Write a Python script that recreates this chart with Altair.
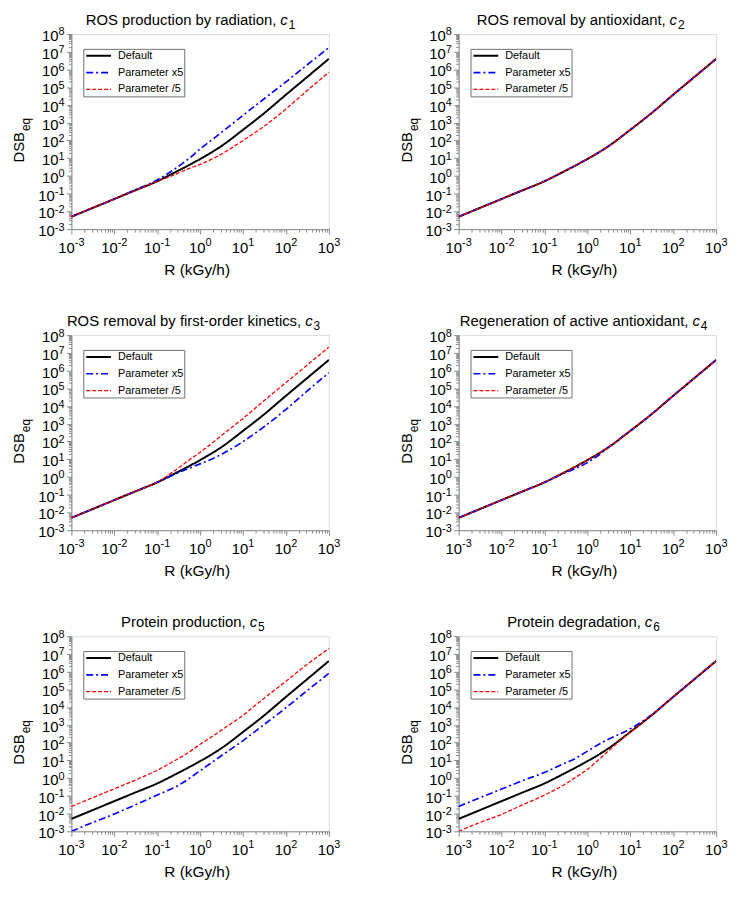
import altair as alt
import pandas as pd

# ---------------- data ----------------
R = [0.001, 0.003, 0.01, 0.03, 0.1, 0.3, 0.5, 1, 2, 3, 10, 30, 100, 300, 1000]
DEFAULT = [0.005, 0.015, 0.05, 0.15, 0.5, 1.9, 3.6, 9, 24, 45, 400, 3200, 3.8e4, 3.5e5, 4e6]

C1_X5 = [0.005, 0.015, 0.05, 0.16, 0.6, 3.2, 8, 33, 120, 260, 2600, 2.1e4, 2.0e5, 1.7e6, 1.7e7]
C1_D5 = [0.005, 0.015, 0.05, 0.15, 0.48, 1.4, 2.4, 4.5, 9.5, 16, 100, 600, 6000, 6e4, 7e5]
C2_X5 = [0.005, 0.015, 0.05, 0.15, 0.5, 1.9, 3.6, 9, 24, 45, 400, 3200, 3.8e4, 3.5e5, 4e6]
C2_D5 = [0.005, 0.015, 0.05, 0.15, 0.5, 1.9, 3.6, 9, 24, 45, 400, 3200, 3.8e4, 3.5e5, 4e6]
C3_X5 = [0.005, 0.015, 0.05, 0.15, 0.5, 1.7, 2.8, 5.5, 11, 18, 100, 650, 6500, 6.5e4, 7.5e5]
C3_D5 = [0.005, 0.015, 0.05, 0.15, 0.52, 3.0, 7.5, 25, 90, 200, 2000, 1.9e4, 2.1e5, 1.9e6, 2.1e7]
C4_X5 = [0.005, 0.015, 0.05, 0.15, 0.5, 1.7, 2.8, 6.5, 20, 45, 400, 3200, 3.8e4, 3.5e5, 4e6]
C4_D5 = [0.005, 0.015, 0.05, 0.15, 0.5, 1.9, 3.6, 9, 24, 45, 400, 3200, 3.8e4, 3.5e5, 4e6]
C5_X5 = [0.001, 0.003, 0.0095, 0.03, 0.11, 0.37, 0.8, 2.6, 8.5, 17, 130, 1000, 9300, 8e4, 8e5]
C5_D5 = [0.025, 0.075, 0.25, 0.75, 2.8, 12, 25, 80, 240, 470, 3500, 3e4, 2.9e5, 2.4e6, 2e7]
C6_X5 = [0.025, 0.075, 0.24, 0.7, 2.1, 7, 12, 33, 90, 150, 600, 3400, 3.8e4, 3.5e5, 4e6]
C6_D5 = [0.001, 0.003, 0.009, 0.03, 0.11, 0.45, 1.0, 3.1, 13, 32, 390, 3200, 3.8e4, 3.5e5, 4e6]

X5 = [C1_X5, C2_X5, C3_X5, C4_X5, C5_X5, C6_X5]
D5 = [C1_D5, C2_D5, C3_D5, C4_D5, C5_D5, C6_D5]

TITLES = [
    "ROS production by radiation,",
    "ROS removal by antioxidant,",
    "ROS removal by first-order kinetics,",
    "Regeneration of active antioxidant,",
    "Protein production,",
    "Protein degradation,",
]
PARAM_INDEX = ["1", "2", "3", "4", "5", "6"]
TITLE_ANCHOR = [211, 213, 236, 236, 180, 188]  # x of the italic "c" inside each panel

SERIES = ["Default", "Parameter x5", "Parameter /5"]
COLORS = ["#000000", "#0000ff", "#ff0000"]
DASHES = [[1, 0], [7, 3, 2, 3], [4, 2]]
WIDTHS = [2.0, 1.3, 1.3]

X_TITLE = "R (kGy/h)"
Y_TITLE = "DSB"
Y_TITLE_SUB = "eq"
X_EXP = list(range(-3, 4))
Y_EXP = list(range(-3, 9))
X_DOMAIN = [1e-3, 1e3]
Y_DOMAIN = [1e-3, 1e8]
X_TICKS = [m * 10.0 ** e for e in range(-3, 3) for m in range(1, 10)] + [1e3]
Y_TICKS = [m * 10.0 ** e for e in range(-3, 8) for m in range(1, 10)] + [1e8]

# ---------------- style ----------------
FONT = "Liberation Sans"
GRAY = "#8a8a8a"
W, H = 260, 197
BASE_FS, EXP_FS = 15, 11
TITLE_FS = 15

MAJOR = "abs(log(datum.value)/LN10 - round(log(datum.value)/LN10)) < 0.001"
TICK_SIZE = {"condition": {"test": MAJOR, "value": 5}, "value": 3}


def make_axis(values):
    return alt.Axis(
        values=values,
        labels=False,
        tickSize=TICK_SIZE,
        tickColor=GRAY,
        domainColor=GRAY,
        grid=False,
        title=None,
    )


X_AXIS = make_axis(X_TICKS)
Y_AXIS = make_axis(Y_TICKS)
X_SCALE = alt.Scale(type="log", domain=X_DOMAIN, nice=False)
Y_SCALE = alt.Scale(type="log", domain=Y_DOMAIN, nice=False)


def xenc():
    return alt.X("R:Q", scale=X_SCALE, axis=X_AXIS)


def yenc():
    return alt.Y("DSB:Q", scale=Y_SCALE, axis=Y_AXIS)


def text(df, **kw):
    base = dict(font=FONT, color="black", baseline="alphabetic")
    base.update(kw)
    return alt.Chart(df).mark_text(**base)


def tick_label_layers():
    layers = []
    # x axis labels: "10" + superscript exponent, centred under the tick
    for neg, dx in [(True, 3.4), (False, 5.3)]:
        exps = [e for e in X_EXP if (e < 0) == neg]
        df = pd.DataFrame({"R": [10.0 ** e for e in exps], "base": ["10"] * len(exps),
                           "exp": [str(e) for e in exps]})
        layers.append(text(df, fontSize=BASE_FS, align="right", dx=dx).encode(
            x=xenc(), y=alt.value(H + 24), text="base:N"))
        layers.append(text(df, fontSize=EXP_FS, align="left", dx=dx).encode(
            x=xenc(), y=alt.value(H + 17), text="exp:N"))
    # y axis labels: right aligned as a whole
    for neg, w in [(True, 9.8), (False, 6.1)]:
        exps = [e for e in Y_EXP if (e < 0) == neg]
        df = pd.DataFrame({"DSB": [10.0 ** e for e in exps], "base": ["10"] * len(exps),
                           "exp": [str(e) for e in exps]})
        layers.append(text(df, fontSize=BASE_FS, align="right", dy=7).encode(
            y=yenc(), x=alt.value(-7 - w), text="base:N"))
        layers.append(text(df, fontSize=EXP_FS, align="right", dy=1.5).encode(
            y=yenc(), x=alt.value(-7), text="exp:N"))
    return layers


def panel(i):
    rows = []
    for name, vals in zip(SERIES, [DEFAULT, X5[i], D5[i]]):
        for r, v in zip(R, vals):
            rows.append({"R": r, "DSB": v, "series": name})
    df = pd.DataFrame(rows)

    leg = alt.Legend(
        orient="none",
        legendX=12,
        legendY=15,
        title=None,
        labelFont=FONT,
        labelFontSize=11,
        labelColor="black",
        labelOffset=6,
        labelExpr="datum.label + '\u00a0\u00a0\u00a0'",
        symbolType="stroke",
        symbolSize=625,
        symbolOffset=2,
        clipHeight=14,
        rowPadding=3,
        strokeColor="#707070",
        fillColor="white",
        padding=0,
        cornerRadius=0,
    )

    lines = alt.Chart(df).mark_line(interpolate="monotone", clip=True).encode(
        x=xenc(),
        y=yenc(),
        color=alt.Color("series:N", scale=alt.Scale(domain=SERIES, range=COLORS), legend=leg),
        strokeDash=alt.StrokeDash("series:N", scale=alt.Scale(domain=SERIES, range=DASHES), legend=leg),
        strokeWidth=alt.StrokeWidth("series:N", scale=alt.Scale(domain=SERIES, range=WIDTHS), legend=leg),
    )

    ytitle_main = text(pd.DataFrame({"t": [Y_TITLE]}), fontSize=15, align="right", angle=270).encode(
        text="t:N", x=alt.value(-47.5), y=alt.value(99))
    ytitle_sub = text(pd.DataFrame({"t": [Y_TITLE_SUB]}), fontSize=12, align="left", angle=270).encode(
        text="t:N", x=alt.value(-41.5), y=alt.value(98))
    xtitle = text(pd.DataFrame({"t": [X_TITLE]}), fontSize=15.5, align="center").encode(
        text="t:N", x=alt.value(127), y=alt.value(H + 46))

    a = TITLE_ANCHOR[i]
    t_main = text(pd.DataFrame({"t": [TITLES[i]]}), fontSize=TITLE_FS, align="right").encode(
        text="t:N", x=alt.value(a - 4), y=alt.value(-9))
    t_c = text(pd.DataFrame({"t": ["c"]}), fontSize=TITLE_FS, fontStyle="italic", align="left").encode(
        text="t:N", x=alt.value(a), y=alt.value(-9))
    t_sub = text(pd.DataFrame({"t": [PARAM_INDEX[i]]}), fontSize=12, align="left").encode(
        text="t:N", x=alt.value(a + 8.5), y=alt.value(-5))

    return alt.layer(lines, *tick_label_layers(), ytitle_main, ytitle_sub, xtitle,
                     t_main, t_c, t_sub).properties(width=W, height=H)


RES = dict(color="independent", strokeDash="independent", strokeWidth="independent")

chart = (
    alt.concat(*[panel(i) for i in range(6)], columns=2,
               spacing={"row": 107, "column": 131}, bounds="flush")
    .resolve_scale(**RES)
    .resolve_legend(**RES)
    .properties(padding={"left": 4, "top": 0, "right": 5, "bottom": 5})
    .configure_view(stroke=GRAY, strokeWidth=1)
    .configure(font=FONT)
)

chart.save("out.html", embed_options={"renderer": "svg", "actions": False})
